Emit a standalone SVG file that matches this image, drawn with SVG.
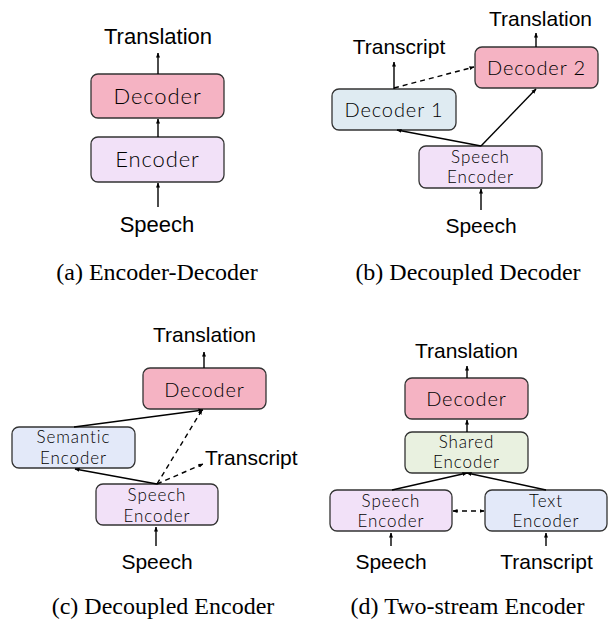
<svg xmlns="http://www.w3.org/2000/svg" width="608" height="620" viewBox="0 0 608 620">
<defs>
<marker id="ah" viewBox="0 0 10 10" refX="9" refY="5" markerWidth="5" markerHeight="5" markerUnits="userSpaceOnUse" orient="auto-start-reverse">
<path d="M0,1 L10,5 L0,9 z" fill="#000"/>
</marker>
<style>
.lbl{font-family:"Liberation Sans",Arial,sans-serif;fill:#000;text-anchor:middle}
.nd{font-family:Lato,"Open Sans",sans-serif;font-weight:300;fill:#000;text-anchor:middle;letter-spacing:0.9px}
.cap{font-family:"Liberation Serif","Times New Roman",serif;fill:#000;text-anchor:middle;font-size:24px}
.box{stroke:#333;stroke-width:1.3}
.dec{fill:#f5b3c3}
.enc{fill:#f2e1f8}
.d1{fill:#dfebf2}
.sem{fill:#e3e9f9}
.sh{fill:#e9f1e0}
.ln{stroke:#000;stroke-width:1.4;fill:none;marker-end:url(#ah)}
.ds{stroke-dasharray:5,4}
</style>
</defs>
<rect width="608" height="620" fill="#fff"/>

<!-- (a) Encoder-Decoder -->
<g id="a-decoder"><rect class="box dec" x="91" y="74" width="133" height="44" rx="7"/><text class="nd" x="157.5" y="104" font-size="22">Decoder</text></g>
<g id="a-encoder"><rect class="box enc" x="91" y="137" width="133" height="45" rx="7"/><text class="nd" x="157.5" y="167" font-size="22">Encoder</text></g>
<g id="a-labels">
<text class="lbl" x="158" y="44" font-size="22">Translation</text>
<text class="lbl" x="157" y="232" font-size="22">Speech</text>
<text class="cap" x="157" y="280">(a) Encoder-Decoder</text>
</g>

<!-- (b) Decoupled Decoder -->
<g id="b-decoder2"><rect class="box dec" x="475" y="47" width="123" height="41" rx="7"/><text class="nd" x="536.5" y="75" font-size="20">Decoder 2</text></g>
<g id="b-decoder1"><rect class="box d1" x="332" y="89" width="124" height="41" rx="7"/><text class="nd" x="394" y="117" font-size="20">Decoder 1</text></g>
<g id="b-speechenc"><rect class="box enc" x="419" y="146" width="123" height="42" rx="7"/><text class="nd" x="480.5" y="163" font-size="17">Speech</text><text class="nd" x="480.5" y="183" font-size="17">Encoder</text></g>
<g id="b-labels">
<text class="lbl" x="540.5" y="26" font-size="21">Translation</text>
<text class="lbl" x="399" y="54" font-size="21">Transcript</text>
<text class="lbl" x="481" y="233" font-size="21">Speech</text>
<text class="cap" x="468" y="280">(b) Decoupled Decoder</text>
</g>

<!-- (c) Decoupled Encoder -->
<g id="c-decoder"><rect class="box dec" x="143" y="368" width="123" height="41" rx="7"/><text class="nd" x="204.5" y="397" font-size="20">Decoder</text></g>
<g id="c-semantic"><rect class="box sem" x="12" y="427" width="123" height="41" rx="7"/><text class="nd" x="73.5" y="443" font-size="17">Semantic</text><text class="nd" x="73.5" y="464" font-size="17">Encoder</text></g>
<g id="c-speechenc"><rect class="box enc" x="96" y="484" width="122" height="41" rx="7"/><text class="nd" x="157" y="501" font-size="17">Speech</text><text class="nd" x="157" y="522" font-size="17">Encoder</text></g>
<g id="c-labels">
<text class="lbl" x="204.5" y="342" font-size="21">Translation</text>
<text class="lbl" x="205" y="465" font-size="21" style="text-anchor:start">Transcript</text>
<text class="lbl" x="157" y="569" font-size="21">Speech</text>
<text class="cap" x="163" y="614">(c) Decoupled Encoder</text>
</g>

<!-- (d) Two-stream Encoder -->
<g id="d-decoder"><rect class="box dec" x="405" y="378" width="123" height="41" rx="7"/><text class="nd" x="466.5" y="406" font-size="20">Decoder</text></g>
<g id="d-shared"><rect class="box sh" x="405" y="432" width="123" height="41" rx="7"/><text class="nd" x="466.5" y="448" font-size="17">Shared</text><text class="nd" x="466.5" y="468" font-size="17">Encoder</text></g>
<g id="d-speechenc"><rect class="box enc" x="330" y="490" width="122" height="41" rx="7"/><text class="nd" x="391" y="507" font-size="17">Speech</text><text class="nd" x="391" y="527" font-size="17">Encoder</text></g>
<g id="d-textenc"><rect class="box sem" x="485" y="490" width="122" height="41" rx="7"/><text class="nd" x="546" y="507" font-size="17">Text</text><text class="nd" x="546" y="527" font-size="17">Encoder</text></g>
<g id="d-labels">
<text class="lbl" x="466.5" y="358" font-size="21">Translation</text>
<text class="lbl" x="391" y="569" font-size="21">Speech</text>
<text class="lbl" x="546.5" y="569" font-size="21">Transcript</text>
<text class="cap" x="467.5" y="614">(d) Two-stream Encoder</text>
</g>

<g id="connectors">
<!-- a -->
<line class="ln" x1="158" y1="74" x2="158" y2="53"/>
<line class="ln" x1="158" y1="137" x2="158" y2="119"/>
<line class="ln" x1="158" y1="207" x2="158" y2="183"/>
<!-- b -->
<line class="ln" x1="536" y1="47" x2="536" y2="33"/>
<line class="ln" x1="394" y1="89" x2="394" y2="62"/>
<line class="ln ds" x1="394" y1="88" x2="474" y2="67"/>
<line class="ln" x1="481" y1="146" x2="397" y2="130"/>
<line class="ln" x1="481" y1="146" x2="536" y2="89"/>
<line class="ln" x1="481" y1="210" x2="481" y2="189"/>
<!-- c -->
<line class="ln" x1="204" y1="368" x2="204" y2="352"/>
<line class="ln" x1="74" y1="427" x2="203" y2="410"/>
<line class="ln" x1="157" y1="484" x2="75" y2="469"/>
<line class="ln ds" x1="157" y1="484" x2="202" y2="410"/>
<line class="ln ds" x1="157" y1="484" x2="203" y2="464"/>
<line class="ln" x1="156" y1="546" x2="156" y2="527"/>
<!-- d -->
<line class="ln" x1="467" y1="378" x2="467" y2="366"/>
<line class="ln" x1="467" y1="432" x2="467" y2="420"/>
<line class="ln" x1="392" y1="490" x2="467" y2="473"/>
<line class="ln" x1="546" y1="490" x2="467" y2="473"/>
<line class="ln ds" x1="453" y1="511" x2="484" y2="511" style="marker-start:url(#ah)" stroke-dasharray="4,3"/>
<line class="ln" x1="391" y1="546" x2="391" y2="533"/>
<line class="ln" x1="546" y1="546" x2="546" y2="533"/>
</g>
</svg>
